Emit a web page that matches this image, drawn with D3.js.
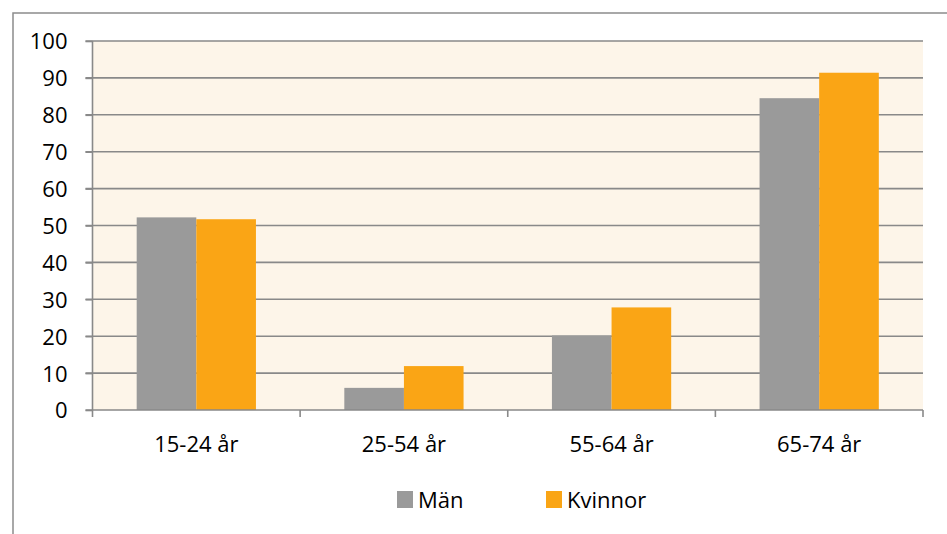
<!DOCTYPE html>
<html><head><meta charset="utf-8">
<script src="https://cdn.jsdelivr.net/npm/d3@7"></script>
<style>body{margin:0;background:#fff}svg{display:block}</style>
</head><body>
<script>
const categories = ["15-24 år", "25-54 år", "55-64 år", "65-74 år"];
const seriesNames = ["Män", "Kvinnor"];
const man = [52.2, 6.0, 20.2, 84.5];
const kvinnor = [51.7, 11.9, 27.8, 91.4];
const yTicks = [0, 10, 20, 30, 40, 50, 60, 70, 80, 90, 100];
const colors = ["#9a9a9a", "#faa515"];

const W = 947, H = 534;
const svg = d3.select("body").append("svg").attr("width", W).attr("height", H);
const font = "'Open Sans', sans-serif";
// outer border
svg.append("rect").attr("x", 13).attr("y", 13).attr("width", 960).attr("height", 560)
  .attr("fill", "#fff").attr("stroke", "#8c8c8c").attr("stroke-width", 1.5);

const L = 92.5, R = 923, T = 41, B = 410;
const x = d3.scaleBand().domain(categories).range([L, R]).padding(0);
const y = d3.scaleLinear().domain([0, 100]).range([B, T]);

svg.append("rect").attr("x", L).attr("y", T).attr("width", R - L).attr("height", B - T).attr("fill", "#fdf5e9");

// gridlines
svg.append("g").selectAll("line").data(yTicks.filter(d => d > 0)).join("line")
  .attr("x1", L - 7).attr("x2", R).attr("y1", d => y(d)).attr("y2", d => y(d))
  .attr("stroke", "#898989").attr("stroke-width", 1.6);

// bars
const inner = d3.scaleBand().domain(seriesNames).range([0, x.bandwidth()]).paddingOuter(0.741).paddingInner(0);
const data = categories.map((c, i) => ({c, vals: [man[i], kvinnor[i]]}));
const g = svg.append("g");
data.forEach(d => {
  d.vals.forEach((v, j) => {
    g.append("rect").attr("x", x(d.c) + inner(seriesNames[j])).attr("y", y(v))
      .attr("width", inner.bandwidth()).attr("height", y(0) - y(v))
      .attr("fill", colors[j]);
  });
});

// y axis
const yAxis = d3.axisLeft(y).tickValues(yTicks).tickSize(7).tickPadding(18);
const ya = svg.append("g").attr("transform", `translate(${L},0)`).call(yAxis);
ya.select(".domain").attr("d", `M0,${T}V${B}`).attr("stroke", "#898989").attr("stroke-width", 1.6);
ya.selectAll(".tick line").attr("stroke", "#898989").attr("stroke-width", 1.6);
ya.selectAll("text").attr("font-family", font).attr("font-size", 22).attr("fill", "#000").attr("dy", "0.36em");

// x axis
const xa = svg.append("g").attr("transform", `translate(0,${B})`);
xa.append("line").attr("x1", L - 7).attr("x2", R).attr("y1", 0).attr("y2", 0).attr("stroke", "#898989").attr("stroke-width", 1.6);
const bounds = [L].concat(categories.map(c => x(c) + x.bandwidth()));
xa.selectAll("line.tk").data(bounds).join("line").attr("class", "tk")
  .attr("x1", d => d).attr("x2", d => d).attr("y1", 0).attr("y2", 7)
  .attr("stroke", "#898989").attr("stroke-width", 1.6);
xa.selectAll("text").data(categories).join("text")
  .attr("x", d => x(d) + x.bandwidth() / 2).attr("y", 42)
  .attr("text-anchor", "middle").attr("font-family", font).attr("font-size", 22).attr("fill", "#000")
  .text(d => d);

// legend
const legX = [397, 546];
seriesNames.forEach((s, j) => {
  svg.append("rect").attr("x", legX[j]).attr("y", 491).attr("width", 16).attr("height", 17).attr("fill", colors[j]);
  svg.append("text").attr("x", legX[j] + 21).attr("y", 507.5).attr("font-family", font).attr("font-size", 22)
    .attr("fill", "#000").text(s);
});
</script>
</body></html>
